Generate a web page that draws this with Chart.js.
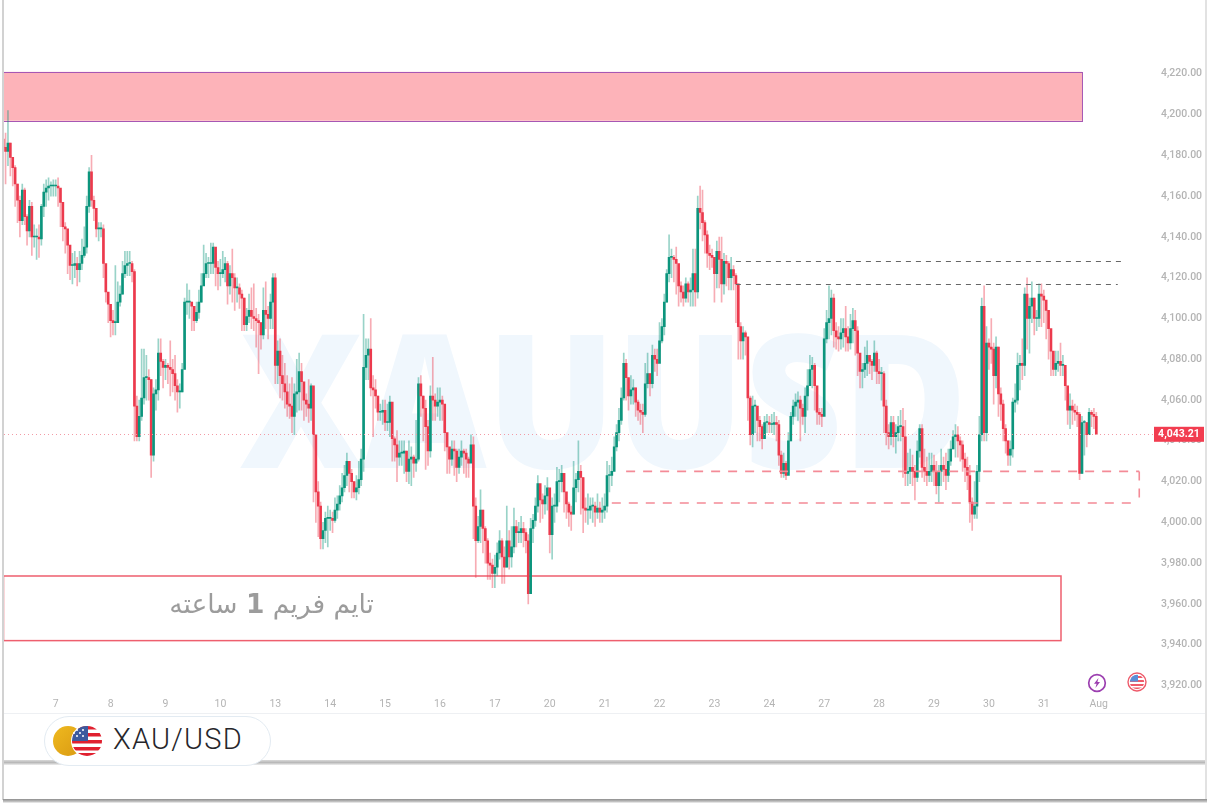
<!DOCTYPE html>
<html><head><meta charset="utf-8">
<script src="https://cdn.jsdelivr.net/npm/chart.js@4"></script>
<style>
html,body{margin:0;padding:0;background:#fff;width:1208px;height:808px;overflow:hidden}
#wm{position:absolute;left:240px;top:296px;font:800 186px "Open Sans";color:#f0f7fd;white-space:nowrap;transform-origin:left top;transform:scaleX(.915);line-height:200px}
#wrap{position:absolute;left:0;top:0;width:1208px;height:713px}
#c{display:block}
#fa{position:absolute;left:120px;top:588px;width:254px;text-align:right;direction:rtl;font:26.5px "DejaVu Sans";color:#9c9c9c;white-space:nowrap}
#axisline{position:absolute;left:3px;right:3px;top:713px;height:1px;background:#eef0f3}
#band{position:absolute;left:4px;width:1201px;top:760px;height:5px;background:linear-gradient(#d9d9d9,#b9b9b9 50%,#eee)}
#fl{position:absolute;left:2px;top:0;width:2px;height:800px;background:#d2d2d2}
#fr{position:absolute;left:1205px;top:0;width:2px;height:800px;background:#e2e2e2}
#fb{position:absolute;left:3px;width:1204px;top:799px;height:4px;background:linear-gradient(#8e8e8e,#bdbdbd 60%,#f4f4f4)}
#pill{position:absolute;left:44px;top:716px;width:225px;height:48px;border:1px solid #e3ebf2;border-radius:25px;background:#fff}
#pill svg{position:absolute;left:7px;top:8px}
#pill span{position:absolute;left:68px;top:5px;font:300 29px Roboto;letter-spacing:1.2px;color:#26262b}
.ev{position:absolute}
</style></head><body>
<div id="wm">XAUUSD</div>
<div id="wrap"><canvas id="c" width="1208" height="713"></canvas></div>
<div id="fa">تایم فریم <b>1</b> ساعته</div>
<svg class="ev" style="left:1087px;top:673px" width="20" height="20" viewBox="0 0 20 20"><circle cx="10" cy="10" r="8.3" fill="#fff" stroke="#9c3fb0" stroke-width="1.7"/><path d="M11.5 5 7 10.8h2.6L8.4 15l4.6-6h-2.6z" fill="#9c3fb0"/></svg>
<svg class="ev" style="left:1127px;top:672px" width="20" height="20" viewBox="0 0 20 20"><circle cx="10" cy="10" r="9" fill="#fff" stroke="#ee5b6b" stroke-width="1.4"/><clipPath id="e"><circle cx="10" cy="10" r="7.2"/></clipPath><g clip-path="url(#e)"><rect width="20" height="20" fill="#fff"/><rect y="4" width="20" height="2" fill="#ef5a6a"/><rect y="8" width="20" height="2" fill="#ef5a6a"/><rect y="12" width="20" height="2" fill="#ef5a6a"/><rect y="15.5" width="20" height="2" fill="#ef5a6a"/><rect x="2" y="2" width="9" height="7.5" fill="#5a8fd8"/></g></svg>
<div id="axisline"></div><div id="band"></div><div id="fl"></div><div id="fr"></div><div id="fb"></div>
<div id="pill"><svg width="62" height="32" viewBox="0 0 62 32"><defs><linearGradient id="g" x1="0" y1="0" x2="1" y2="1"><stop offset="0" stop-color="#efb91f"/><stop offset="1" stop-color="#d99a12"/></linearGradient><clipPath id="u"><circle cx="35" cy="16" r="15"/></clipPath></defs><circle cx="16" cy="16" r="15" fill="url(#g)"/><circle cx="35" cy="16" r="16" fill="#fff"/><g clip-path="url(#u)"><rect x="19" y="0" width="32" height="32" fill="#fff"/><rect x="19" y="1" width="32" height="3.5" fill="#e0202f"/><rect x="19" y="8" width="32" height="3.5" fill="#e0202f"/><rect x="19" y="15" width="32" height="3.5" fill="#e0202f"/><rect x="19" y="22" width="32" height="3.5" fill="#e0202f"/><rect x="19" y="28" width="32" height="4" fill="#e0202f"/><rect x="19" y="0" width="17" height="16" fill="#3d5a9e"/></g><g fill="#fff"><circle cx="25" cy="5" r="1"/><circle cx="31" cy="5" r="1"/><circle cx="25" cy="11" r="1"/><circle cx="31" cy="11" r="1"/><circle cx="28" cy="8" r="1"/><circle cx="22" cy="8" r="1"/></g></svg><span>XAU/USD</span></div>
<script>
const dayNames=['7','8','9','10','13','14','15','16','17','20','21','22','23','24','27','28','29','30','31','Aug'];
const firstDayStart=22, candlesPerDay=23, slotCount=481;
const priceLevels=[3920,3940,3960,3980,4000,4020,4040,4060,4080,4100,4120,4140,4160,4180,4200,4220];
const priceMin=3916.8, priceMax=4251.67;
const firstOpen=4188;
const closes=[
4184,4182,4186,4179,4174,4166,4158,4148,4163,4150,4143,4155,4140,4140,4140,4139,4155,4162,4164,4165,4165,4165,
4165,4164,4157,4145,4144,4136,4126,4126,4127,4124,4127,4131,4135,4155,4172,4158,4154,4144,4144,4144,4127,4113,4107,
4099,4098,4098,4108,4112,4122,4126,4127,4127,4123,4057,4042,4052,4061,4071,4071,4070,4033,4063,4065,4083,4079,4076,
4077,4076,4075,4073,4067,4064,4064,4075,4108,4108,4108,4106,4099,4103,4108,4116,4122,4127,4127,4127,4135,4125,4122,
4122,4124,4127,4116,4122,4120,4115,4115,4112,4110,4097,4101,4104,4101,4100,4099,4098,4092,4104,4102,4100,4108,4120,
4077,4084,4072,4068,4064,4058,4057,4052,4063,4064,4074,4069,4060,4058,4056,4067,4043,4015,4008,3992,3996,4002,4002,
4002,4001,4006,4009,4013,4017,4023,4030,4024,4020,4015,4017,4021,4031,4076,4082,4085,4066,4065,4062,4054,4054,4055,
4049,4049,4059,4041,4038,4032,4034,4034,4035,4025,4031,4032,4029,4031,4068,4062,4056,4047,4035,4062,4060,4057,4059,
4060,4058,4044,4037,4031,4036,4035,4027,4032,4035,4034,4031,4029,4038,4008,3991,3998,4006,3997,3991,3980,3979,3975,
3978,3985,3991,3983,3978,3991,3983,3988,3998,3995,3995,3997,3995,3991,3965,3997,4001,4008,4019,4011,4009,4013,4017,
3994,4008,4008,4020,4020,4024,4015,4009,4005,4004,4017,4021,4025,4022,4007,4006,4006,4008,4008,4005,4007,4005,4006,
4008,4023,4023,4025,4037,4044,4050,4061,4078,4071,4062,4065,4066,4059,4055,4054,4053,4068,4073,4068,4082,4080,4078,
4089,4096,4108,4122,4130,4130,4129,4127,4116,4113,4110,4117,4113,4114,4122,4113,4154,4152,4147,4141,4132,4131,4130,
4122,4133,4129,4117,4128,4127,4120,4124,4121,4117,4096,4089,4093,4091,4061,4043,4057,4057,4050,4047,4041,4049,4049,
4048,4048,4049,4048,4033,4024,4029,4023,4040,4052,4057,4059,4060,4056,4052,4062,4067,4075,4077,4067,4054,4053,4052,
4090,4098,4100,4110,4094,4091,4090,4093,4095,4091,4088,4095,4099,4094,4083,4074,4075,4078,4082,4079,4077,4083,4074,
4073,4073,4057,4044,4042,4049,4042,4044,4047,4047,4042,4024,4025,4027,4025,4022,4035,4046,4027,4025,4023,4025,4028,
4025,4018,4025,4028,4026,4023,4030,4036,4042,4043,4040,4038,4031,4027,4023,4010,4004,4008,4025,4043,4106,4044,4088,
4086,4085,4072,4086,4063,4058,4046,4040,4033,4036,4059,4060,4077,4078,4077,4112,4100,4106,4110,4100,4100,4112,4111,
4109,4104,4095,4084,4075,4078,4079,4077,4077,4067,4055,4057,4055,4054,4053,4024,4049,4049,4043,4054,4053,4052,4043.21];
const highs=[
4190,4191,4202,4186,4179,4175,4166,4160,4166,4164,4151,4158,4157,4146,4144,4146,4156,4166,4168,4169,4167,4168,
4168,4169,4163,4150,4147,4142,4134,4132,4133,4130,4133,4139,4145,4160,4174,4180,4160,4148,4147,4147,4146,4119,4112,
4107,4104,4126,4118,4116,4128,4133,4133,4133,4128,4124,4062,4060,4085,4085,4082,4075,4070,4066,4070,4090,4090,4080,
4080,4078,4089,4080,4082,4070,4068,4078,4110,4117,4114,4108,4104,4108,4114,4122,4136,4132,4130,4137,4137,4132,4128,
4129,4133,4130,4128,4126,4134,4122,4120,4117,4114,4110,4105,4112,4115,4117,4105,4102,4098,4115,4118,4106,4112,4122,
4122,4089,4090,4082,4078,4072,4068,4071,4068,4080,4083,4078,4068,4063,4070,4068,4066,4030,4020,4010,4000,4005,4008,
4006,4005,4012,4013,4018,4024,4028,4034,4030,4026,4020,4023,4030,4036,4102,4090,4090,4100,4072,4070,4062,4058,4060,
4060,4058,4062,4050,4042,4045,4040,4040,4040,4035,4040,4037,4033,4050,4071,4072,4062,4060,4050,4067,4081,4063,4066,
4066,4062,4048,4040,4036,4040,4040,4036,4036,4040,4036,4036,4032,4043,4042,4012,4003,4016,4006,3998,3992,3985,3982,
3984,3990,3996,3992,3988,4008,3996,3998,4007,4001,4000,4003,4000,3997,3994,4002,4004,4012,4023,4018,4014,4018,4022,
4000,4012,4014,4027,4026,4028,4020,4012,4010,4008,4030,4024,4040,4028,4022,4012,4014,4012,4012,4010,4014,4010,4012,
4014,4030,4028,4032,4042,4048,4056,4066,4083,4080,4070,4072,4070,4066,4060,4058,4058,4078,4083,4073,4087,4085,4085,
4098,4100,4112,4124,4141,4134,4131,4135,4126,4118,4116,4120,4118,4120,4134,4134,4160,4165,4163,4148,4143,4136,4134,
4128,4138,4140,4140,4132,4131,4128,4130,4126,4122,4110,4098,4096,4094,4070,4062,4062,4060,4056,4052,4048,4052,4053,
4052,4053,4054,4052,4050,4035,4034,4030,4044,4054,4060,4063,4064,4062,4058,4066,4075,4082,4081,4078,4062,4056,4056,
4095,4104,4116,4114,4112,4098,4096,4100,4100,4106,4096,4102,4105,4104,4096,4082,4078,4086,4089,4082,4080,4089,4084,
4080,4076,4074,4060,4048,4052,4052,4048,4052,4055,4056,4050,4034,4036,4033,4028,4040,4048,4048,4036,4032,4034,4034,
4033,4030,4028,4036,4032,4034,4036,4040,4045,4048,4047,4042,4040,4034,4032,4028,4012,4020,4028,4052,4110,4116,4096,
4090,4100,4088,4091,4086,4066,4060,4048,4040,4040,4061,4068,4083,4082,4090,4115,4120,4110,4118,4110,4104,4117,4117,
4114,4108,4104,4090,4082,4084,4084,4088,4082,4074,4062,4063,4060,4058,4057,4054,4052,4050,4049,4056,4055,4056,4054];
const lows=[
4172,4166,4175,4170,4165,4155,4147,4140,4146,4146,4136,4140,4131,4135,4129,4130,4136,4150,4155,4158,4160,4160,
4160,4155,4145,4138,4132,4122,4119,4117,4120,4116,4118,4124,4130,4132,4152,4155,4148,4140,4138,4140,4120,4108,4098,
4091,4092,4092,4098,4106,4112,4120,4121,4121,4118,4040,4040,4040,4050,4058,4060,4060,4022,4030,4055,4060,4072,4066,
4070,4068,4062,4064,4060,4054,4056,4064,4085,4102,4100,4094,4094,4098,4100,4108,4118,4120,4120,4122,4122,4116,4114,
4116,4120,4118,4107,4112,4108,4104,4108,4105,4094,4094,4094,4098,4095,4094,4086,4073,4085,4090,4095,4090,4095,4095,
4068,4068,4061,4060,4056,4052,4051,4044,4043,4054,4055,4055,4050,4052,4049,4050,4010,4000,3993,3987,3987,3990,3988,
3996,3995,4000,4002,4006,4010,4015,4018,4015,4012,4012,4011,4014,4018,4025,4070,4070,4062,4042,4056,4050,4050,4048,
4045,4045,4042,4030,4030,4020,4028,4028,4024,4020,4019,4018,4022,4025,4030,4052,4040,4026,4028,4032,4050,4050,4052,
4050,4050,4035,4024,4024,4028,4023,4020,4024,4028,4024,4022,4022,4030,3992,3973,3990,3990,3985,3980,3972,3972,3968,
3968,3974,3982,3970,3970,3978,3977,3978,3985,3988,3990,3990,3988,3985,3960,3975,3990,3998,4005,4000,4002,4004,4006,
3985,3982,4000,4005,4010,4015,4005,4002,3998,3996,4004,4010,4015,4004,3995,4000,3999,4002,4000,3998,4002,4000,4000,
4002,4005,4015,4018,4030,4035,4040,4048,4060,4060,4055,4058,4058,4052,4050,4048,4044,4052,4066,4062,4066,4074,4072,
4084,4088,4092,4108,4118,4120,4118,4112,4106,4108,4106,4108,4108,4106,4106,4106,4110,4144,4138,4132,4125,4124,4125,
4108,4115,4115,4108,4112,4116,4114,4114,4114,4098,4080,4080,4080,4082,4050,4038,4037,4044,4040,4040,4036,4042,4044,
4044,4044,4043,4040,4028,4022,4022,4021,4024,4040,4048,4052,4050,4040,4048,4044,4055,4068,4066,4055,4048,4048,4047,
4082,4088,4090,4092,4086,4085,4084,4085,4086,4084,4084,4085,4088,4082,4072,4066,4066,4071,4072,4073,4070,4074,4068,
4068,4060,4044,4038,4036,4038,4037,4034,4040,4040,4022,4018,4018,4019,4018,4011,4020,4032,4022,4020,4018,4020,4020,
4018,4014,4010,4018,4020,4016,4020,4028,4036,4032,4032,4030,4025,4020,4016,4000,3996,4002,4002,4020,4040,4040,4040,
4075,4078,4058,4066,4052,4050,4040,4034,4028,4028,4032,4054,4058,4065,4070,4072,4085,4083,4098,4092,4094,4096,4096,
4098,4090,4080,4072,4072,4072,4074,4072,4072,4060,4048,4046,4048,4050,4047,4021,4024,4033,4037,4044,4047,4046,4043];
const opens=closes.map((c,i)=>i?closes[i-1]:firstOpen);
const upColor='#0c957d', downColor='#ec3a4d', upWick='rgba(12,149,125,.42)', downWick='rgba(236,58,77,.42)';
const supplyZone={top:4221,bottom:4197,endSlot:452};
const demandZone={top:3973.7,bottom:3942,endSlot:443};
const blackLevels=[{p:4128.2,from:307,to:470},{p:4116.9,from:307,to:467}];
const redLevels=[{p:4025,from:261,to:476},{p:4009.5,from:255,to:474}];
const redEdge={slot:476,top:4025,bottom:4012};
const labels=Array.from({length:slotCount},()=>'');
dayNames.forEach((d,i)=>{labels[firstDayStart+i*candlesPerDay]=d;});
const idx=closes.map((_,i)=>i);
const slotData=a=>labels.map((_,i)=>i<a.length?a[i]:null);
const isUp=closes.map((c,i)=>c>=opens[i]);
const overlay={id:'overlay',
 beforeDatasetsDraw(ch){const{ctx,scales:{x,y},chartArea:a}=ch;ctx.save();
  const X=i=>x.getPixelForValue(i);
  let t=y.getPixelForValue(supplyZone.top),b=y.getPixelForValue(supplyZone.bottom),r=X(supplyZone.endSlot);
  ctx.fillStyle='#fdb3b9';ctx.fillRect(a.left+1,t,r-a.left-1,b-t);
  ctx.strokeStyle='#a657b4';ctx.lineWidth=1;ctx.strokeRect(a.left+1.5,Math.round(t)+.5,r-a.left-1,Math.round(b-t));
  t=y.getPixelForValue(demandZone.top);b=y.getPixelForValue(demandZone.bottom);r=X(demandZone.endSlot);
  ctx.strokeStyle='#ee5f6e';ctx.lineWidth=1.5;ctx.strokeRect(a.left+1.5,t,r-a.left-1,b-t);
  ctx.restore();},
 afterDatasetsDraw(ch){const{ctx,scales:{x,y},chartArea:a}=ch;ctx.save();
  const X=i=>x.getPixelForValue(i);
  const line=(x1,y1,x2,y2)=>{ctx.beginPath();ctx.moveTo(x1,y1);ctx.lineTo(x2,y2);ctx.stroke();};
  ctx.strokeStyle='#666';ctx.lineWidth=1;ctx.setLineDash([5,5]);
  blackLevels.forEach(l=>{const v=Math.round(y.getPixelForValue(l.p))+.5;line(X(l.from),v,X(l.to),v);});
  ctx.strokeStyle='#f48b97';ctx.lineWidth=1.6;ctx.setLineDash([9,8]);
  redLevels.forEach(l=>{const v=y.getPixelForValue(l.p);line(X(l.from),v,X(l.to),v);});
  line(X(redEdge.slot),y.getPixelForValue(redEdge.top),X(redEdge.slot),y.getPixelForValue(redEdge.bottom));
  const last=closes[closes.length-1],py=Math.round(y.getPixelForValue(last))+.5;
  ctx.strokeStyle='#f39aa5';ctx.lineWidth=1;ctx.setLineDash([1,3]);line(a.left+2,py,a.right+3,py);
  ctx.setLineDash([]);ctx.restore();},
 afterDraw(ch){const{ctx,scales:{y}}=ch;ctx.save();
  const last=closes[closes.length-1],py=y.getPixelForValue(last);
  ctx.fillStyle='#f23d50';ctx.fillRect(1154,py-7.5,50,15);
  ctx.fillStyle='#fff';ctx.font='700 10.5px Roboto';ctx.textAlign='center';ctx.textBaseline='middle';
  ctx.fillText(last.toLocaleString('en-US',{minimumFractionDigits:2}),1179,py+.5);ctx.restore();}
};
new Chart(document.getElementById('c'),{type:'bar',plugins:[overlay],
 data:{labels,datasets:[
  {label:'wick',grouped:false,order:2,data:slotData(idx.map(i=>[lows[i],highs[i]])),barThickness:1,
   backgroundColor:slotData(isUp.map(u=>u?upWick:downWick))},
  {label:'body',grouped:false,order:1,data:slotData(idx.map(i=>[Math.min(opens[i],closes[i]),Math.max(opens[i],closes[i])])),barThickness:2,minBarLength:1,
   backgroundColor:slotData(isUp.map(u=>u?upColor:downColor))}
 ]},
 options:{responsive:false,animation:false,events:[],layout:{padding:{left:2,right:0,top:0,bottom:0}},
  plugins:{legend:{display:false},tooltip:{enabled:false}},
  scales:{
   x:{grid:{display:false},border:{display:false},afterFit(s){s.height=21;},
      ticks:{autoSkip:false,maxRotation:0,minRotation:0,padding:-2,color:'#b4b4b4',font:{family:'Roboto',size:10.5},callback(v){return labels[v]||null;}}},
   y:{position:'right',min:priceMin,max:priceMax,grid:{display:false},border:{display:false},afterFit(s){s.width=58;},
      afterBuildTicks(s){s.ticks=priceLevels.map(value=>({value}));},
      ticks:{padding:3,color:'#b4b4b4',font:{family:'Roboto',size:10.5,weight:'500'},
        callback(v){return v.toLocaleString('en-US',{minimumFractionDigits:2});}}}
  }}});
</script>
</body></html>
